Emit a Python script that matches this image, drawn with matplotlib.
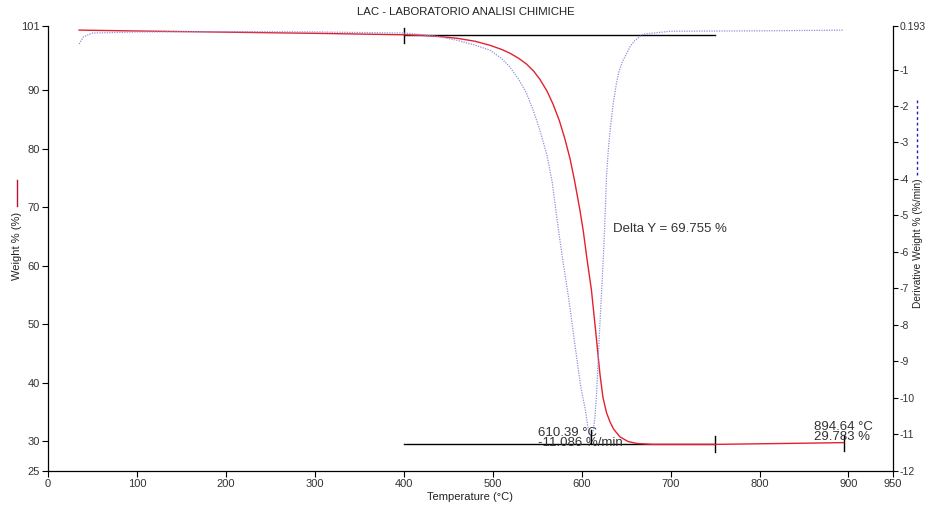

# -*- coding: utf-8 -*-
"""
TGA / DTG curve of a sample: weight % and derivative weight vs temperature.
"""

# Importing the required packages
import matplotlib.pyplot as plt
from matplotlib.lines import Line2D

# Weight curve (red)
temp_w = [35, 100, 200, 300, 400, 420, 440, 460, 480, 497, 510, 520, 530,
          538, 546, 553, 561, 568, 575, 581, 587, 592, 598, 602, 606, 611,
          616, 620.6, 624, 628, 632, 636, 643, 652, 662, 680, 750, 800, 850,
          894.64]
weight = [100.3, 100.15, 99.95, 99.75, 99.5, 99.4, 99.2, 98.9, 98.4, 97.7,
          97.0, 96.3, 95.4, 94.5, 93.3, 91.9, 89.9, 87.6, 84.8, 81.8, 78.3,
          74.6, 69.6, 65.8, 61.2, 55.9, 48.5, 41.5, 37.5, 34.9, 33.3, 32.1,
          30.8, 30.0, 29.65, 29.5, 29.5, 29.6, 29.7, 29.8]

# Derivative weight curve (blue, dotted)
temp_d = [35, 40, 50, 100, 200, 300, 400, 420, 440, 460, 480, 497, 510, 519,
          530, 538, 546, 553, 561, 567, 572, 578, 585, 590, 594.4, 599, 603.7,
          607, 610.39, 613, 615, 617, 618.7, 620.5, 622.5, 624.5, 626, 628,
          630, 632.5, 635.5, 639, 642, 646, 650.6, 655, 660, 669, 700, 800,
          894.64]
deriv = [-0.3, -0.1, 0.0, 0.03, 0.04, 0.03, 0.0, -0.04, -0.1, -0.2, -0.33,
         -0.47, -0.7, -0.92, -1.3, -1.65, -2.15, -2.66, -3.35, -4.1, -5.05,
         -6.1, -7.2, -8.1, -8.89, -9.7, -10.27, -10.8, -11.086, -10.9, -10.54,
         -9.8, -8.89, -8.0, -7.06, -6.1, -5.27, -3.9, -3.2, -2.55, -1.93,
         -1.4, -1.05, -0.78, -0.56, -0.35, -0.2, -0.03, 0.05, 0.06, 0.08]

# Analysis markers
step_start, step_end = 400, 750
w_upper, w_lower = 99.4, 29.55
peak_t, peak_d = 610.39, -11.086
end_t, end_w = 894.64, 29.783

x_ticks = [0, 100, 200, 300, 400, 500, 600, 700, 800, 900, 950]
left_ticks = [25, 30, 40, 50, 60, 70, 80, 90, 101]
right_ticks = [0.193, -1, -2, -3, -4, -5, -6, -7, -8, -9, -10, -11, -12]

plt.rcParams['font.family'] = ['Liberation Sans', 'DejaVu Sans']

fig = plt.figure(figsize=(9.26, 5.07), dpi=100)
ax = fig.add_axes([0.0518, 0.0716, 0.9125, 0.8771])
ax2 = ax.twinx()

# Curves
ax.plot(temp_w, weight, color='#e3202f', lw=1.0, zorder=3)
ax2.plot(temp_d, deriv, color='#9090dc', lw=0.9, ls=(0, (1, 1)))

# Step markers
ax.plot([step_start, step_end], [w_upper, w_upper], color='black', lw=1.0)
ax.plot([step_start, step_end], [w_lower, w_lower], color='black', lw=1.0)
ax.plot([step_start, step_start], [w_upper - 1.3, w_upper + 1.3],
        color='black', lw=1.0)
ax.plot([step_end, step_end], [w_lower - 1.3, w_lower + 1.3],
        color='black', lw=1.0)
ax.plot([end_t, end_t], [end_w - 1.4, end_w + 1.4], color='black', lw=1.0)
ax2.plot([peak_t, peak_t], [peak_d - 0.15, peak_d + 0.2], color='black',
         lw=1.0)

# Texts
ax.text(635, 65.8, "Delta Y = 69.755 %", fontsize=9.5, color='#333333',
        ha='left', va='baseline')
ax.text(551, 31.0, "610.39 °C", fontsize=9.5, color='#333333',
        ha='left', va='baseline')
ax.text(551, 29.3, "-11.086 %/min", fontsize=9.5, color='#333333',
        ha='left', va='baseline')
ax.text(861, 32.0, "894.64 °C", fontsize=9.5, color='#333333',
        ha='left', va='baseline')
ax.text(861, 30.3, "29.783 %", fontsize=9.5, color='#333333',
        ha='left', va='baseline')

# Axes limits and ticks
ax.set_xlim(0, 950)
ax.set_ylim(25, 101)
ax2.set_ylim(-12, 0.193)
ax.set_xticks(x_ticks)
ax.set_yticks(left_ticks)
ax2.set_yticks(right_ticks)
ax2.set_yticklabels(['0.193'] + [str(v) for v in right_ticks[1:]])

for a in (ax, ax2):
    a.tick_params(labelsize=8, labelcolor='#333333', length=4, width=0.8,
                  direction='out', pad=2)
    a.spines['top'].set_visible(False)
ax2.tick_params(labelsize=7.5, length=3.5, pad=1)
ax.spines['right'].set_visible(False)
ax2.spines['left'].set_visible(False)
ax2.spines['bottom'].set_visible(False)
for s in ('left', 'bottom'):
    ax.spines[s].set_linewidth(0.9)
ax2.spines['right'].set_linewidth(0.9)

# Title and axis labels
fig.text(466 / 926, 1 - 12 / 507, "LAC - LABORATORIO ANALISI CHIMICHE",
         fontsize=8.2, color='#222222', ha='center', va='center')
fig.text(470 / 926, 1 - 497 / 507, "Temperature (°C)", fontsize=8,
         color='#222222', ha='center', va='center')
fig.text(17 / 926, 1 - 246 / 507, "Weight % (%)", fontsize=8,
         color='#222222', ha='center', va='center', rotation=90)
fig.text(918 / 926, 1 - 243 / 507, "Derivative Weight % (%/min)",
         fontsize=7.3, color='#222222', ha='center', va='center',
         rotation=90)

# Small legend lines next to the axis labels
fig.add_artist(Line2D([17 / 926, 17 / 926], [1 - 180 / 507, 1 - 206 / 507],
                      color='#c0103a', lw=1.0))
fig.add_artist(Line2D([917 / 926, 917 / 926], [1 - 100 / 507, 1 - 176 / 507],
                      color='#2020b0', lw=1.0, ls=(0, (2, 2))))

# Save figure as png
fig.savefig("out.png", dpi=100)
